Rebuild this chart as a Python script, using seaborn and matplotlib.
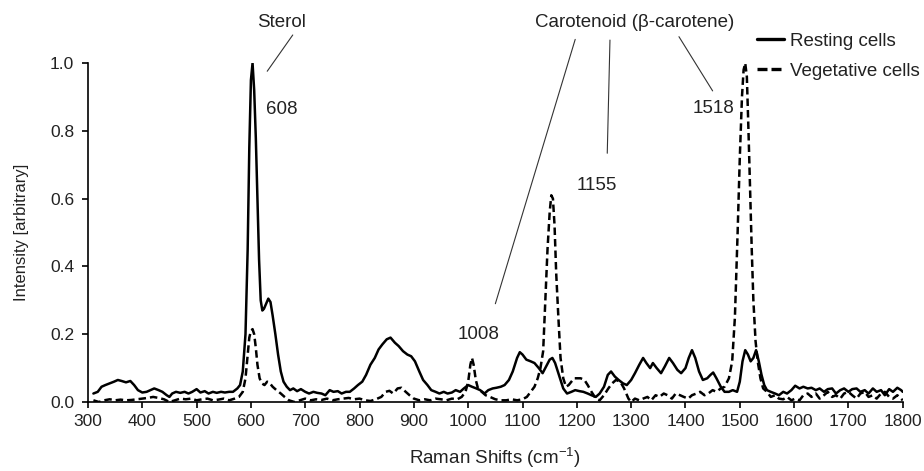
import numpy as np
import pandas as pd
import matplotlib
matplotlib.use("Agg")
import matplotlib.pyplot as plt
import seaborn as sns
from matplotlib.lines import Line2D

# --- data (Raman shift in cm-1, normalised intensity) ---
resting_shift = [
    310, 318, 325, 332, 340, 348, 355, 362, 370, 378,
    385, 392, 400, 408, 415, 422, 430, 437, 445, 450,
    455, 462, 470, 478, 485, 492, 500, 507, 515, 522,
    530, 537, 545, 552, 560, 567, 575, 580, 585, 590,
    594, 597, 600, 603, 606, 609, 612, 615, 618, 621,
    624, 628, 632, 636, 640, 645, 650, 655, 660, 666,
    672, 678, 685, 692, 700, 707, 715, 722, 730, 737,
    745, 752, 760, 767, 775, 782, 790, 797, 805, 812,
    820, 828, 835, 842, 850, 857, 865, 872, 880, 888,
    895, 902, 910, 917, 925, 932, 940, 947, 955, 962,
    970, 977, 985, 992, 1000, 1007, 1015, 1022, 1030, 1037,
    1045, 1052, 1060, 1067, 1075, 1082, 1090, 1095, 1100, 1107,
    1115, 1122, 1130, 1137, 1145, 1150, 1155, 1160, 1167, 1175,
    1182, 1190, 1197, 1205, 1212, 1220, 1227, 1235, 1242, 1250,
    1257, 1263, 1270, 1277, 1285, 1292, 1300, 1307, 1315, 1322,
    1328, 1335, 1340, 1347, 1355, 1362, 1370, 1377, 1385, 1392,
    1400, 1406, 1412, 1418, 1425, 1432, 1440, 1446, 1451, 1457,
    1465, 1472, 1480, 1487, 1495, 1500, 1505, 1510, 1515, 1520,
    1525, 1530, 1535, 1540, 1545, 1550, 1557, 1565, 1572, 1580,
    1587, 1595, 1602, 1610, 1617, 1625, 1632, 1640, 1647, 1655,
    1662, 1670, 1677, 1685, 1692, 1700, 1707, 1715, 1722, 1730,
    1737, 1745, 1752, 1760, 1767, 1775, 1782, 1790, 1797, 1800,
]
resting_intensity = [
    0.025, 0.030, 0.045, 0.050, 0.055, 0.060, 0.065, 0.062, 0.058, 0.062,
    0.050, 0.035, 0.028, 0.030, 0.035, 0.040, 0.035, 0.030, 0.020, 0.015,
    0.025, 0.030, 0.027, 0.030, 0.025, 0.030, 0.038, 0.028, 0.032, 0.025,
    0.030, 0.027, 0.030, 0.028, 0.030, 0.030, 0.040, 0.050, 0.090, 0.200,
    0.450, 0.750, 0.950, 1.000, 0.920, 0.780, 0.600, 0.420, 0.300, 0.270,
    0.275, 0.290, 0.305, 0.295, 0.255, 0.200, 0.140, 0.090, 0.060, 0.045,
    0.035, 0.040, 0.032, 0.038, 0.030, 0.025, 0.030, 0.027, 0.025, 0.020,
    0.035, 0.030, 0.032, 0.025, 0.030, 0.030, 0.040, 0.050, 0.060, 0.080,
    0.110, 0.130, 0.155, 0.170, 0.185, 0.190, 0.175, 0.165, 0.150, 0.140,
    0.135, 0.120, 0.090, 0.065, 0.050, 0.035, 0.030, 0.025, 0.030, 0.025,
    0.028, 0.035, 0.030, 0.040, 0.050, 0.045, 0.040, 0.035, 0.025, 0.035,
    0.040, 0.042, 0.045, 0.050, 0.065, 0.090, 0.130, 0.147, 0.140, 0.125,
    0.120, 0.115, 0.100, 0.085, 0.110, 0.125, 0.130, 0.115, 0.080, 0.040,
    0.025, 0.030, 0.035, 0.032, 0.030, 0.025, 0.020, 0.015, 0.025, 0.045,
    0.080, 0.090, 0.075, 0.065, 0.055, 0.050, 0.065, 0.085, 0.110, 0.130,
    0.115, 0.100, 0.115, 0.100, 0.085, 0.105, 0.130, 0.115, 0.095, 0.085,
    0.100, 0.130, 0.153, 0.130, 0.090, 0.065, 0.070, 0.080, 0.087, 0.070,
    0.045, 0.030, 0.030, 0.035, 0.030, 0.060, 0.120, 0.153, 0.140, 0.120,
    0.130, 0.153, 0.120, 0.080, 0.050, 0.035, 0.030, 0.025, 0.020, 0.030,
    0.025, 0.035, 0.048, 0.040, 0.045, 0.040, 0.042, 0.035, 0.040, 0.030,
    0.038, 0.040, 0.025, 0.035, 0.040, 0.030, 0.038, 0.040, 0.030, 0.035,
    0.025, 0.040, 0.030, 0.035, 0.020, 0.038, 0.030, 0.042, 0.035, 0.030,
]

vegetative_shift = [
    310, 320, 330, 340, 350, 360, 370, 380, 390, 400,
    410, 420, 430, 440, 450, 460, 470, 480, 490, 500,
    510, 520, 530, 540, 550, 560, 570, 578, 585, 590,
    594, 597, 600, 603, 606, 609, 612, 616, 620, 625,
    630, 635, 640, 647, 655, 662, 670, 680, 690, 700,
    710, 720, 730, 740, 750, 760, 770, 780, 790, 800,
    810, 820, 830, 840, 848, 855, 862, 870, 877, 885,
    892, 900, 910, 920, 930, 940, 950, 960, 970, 980,
    988, 995, 1000, 1004, 1007, 1010, 1014, 1018, 1025, 1032,
    1040, 1050, 1060, 1070, 1080, 1090, 1100, 1108, 1115, 1122,
    1128, 1133, 1138, 1142, 1146, 1150, 1153, 1156, 1159, 1162,
    1166, 1170, 1175, 1180, 1185, 1190, 1195, 1200, 1207, 1214,
    1220, 1227, 1235, 1242, 1250, 1258, 1265, 1272, 1280, 1287,
    1295, 1300, 1307, 1315, 1322, 1330, 1337, 1345, 1352, 1360,
    1367, 1375, 1382, 1390, 1397, 1405, 1412, 1420, 1427, 1435,
    1442, 1450, 1457, 1465, 1472, 1480, 1486, 1491, 1496, 1500,
    1504, 1507, 1510, 1513, 1516, 1519, 1522, 1525, 1529, 1533,
    1538, 1543, 1550, 1557, 1565, 1572, 1580, 1587, 1595, 1602,
    1610, 1617, 1625, 1632, 1640, 1647, 1655, 1662, 1670, 1677,
    1685, 1692, 1700, 1707, 1715, 1722, 1730, 1737, 1745, 1752,
    1760, 1767, 1775, 1782, 1790, 1800,
]
vegetative_intensity = [
    0.005, 0.000, 0.005, 0.008, 0.005, 0.007, 0.005, 0.006, 0.008, 0.010,
    0.012, 0.015, 0.012, 0.008, 0.000, 0.005, 0.010, 0.008, 0.010, 0.005,
    0.008, 0.010, 0.005, 0.007, 0.010, 0.005, 0.010, 0.015, 0.030, 0.070,
    0.140, 0.190, 0.210, 0.215, 0.200, 0.160, 0.110, 0.070, 0.055, 0.050,
    0.060, 0.055, 0.045, 0.035, 0.025, 0.015, 0.005, 0.000, 0.005, 0.010,
    0.005, 0.008, 0.006, 0.010, 0.005, 0.008, 0.010, 0.012, 0.008, 0.010,
    0.005, 0.003, 0.008, 0.015, 0.030, 0.033, 0.025, 0.040, 0.042, 0.030,
    0.020, 0.010, 0.005, 0.008, 0.005, 0.010, 0.008, 0.005, 0.010, 0.008,
    0.015, 0.030, 0.060, 0.110, 0.130, 0.110, 0.065, 0.040, 0.030, 0.020,
    0.015, 0.008, 0.005, 0.005, 0.008, 0.005, 0.008, 0.015, 0.030, 0.045,
    0.070, 0.100, 0.150, 0.300, 0.450, 0.560, 0.610, 0.600, 0.520, 0.380,
    0.250, 0.130, 0.070, 0.045, 0.050, 0.060, 0.070, 0.070, 0.070, 0.065,
    0.050, 0.030, 0.010, 0.005, 0.020, 0.040, 0.055, 0.065, 0.060, 0.040,
    0.010, 0.000, 0.010, 0.005, 0.010, 0.015, 0.005, 0.020, 0.015, 0.025,
    0.020, 0.010, 0.025, 0.020, 0.015, 0.010, 0.020, 0.025, 0.030, 0.020,
    0.025, 0.035, 0.030, 0.040, 0.045, 0.070, 0.120, 0.250, 0.500, 0.720,
    0.900, 0.980, 1.000, 0.960, 0.800, 0.620, 0.450, 0.300, 0.180, 0.120,
    0.070, 0.040, 0.030, 0.015, 0.020, 0.010, 0.008, 0.015, 0.005, 0.010,
    0.005, 0.020, 0.025, 0.015, 0.025, 0.010, 0.020, 0.030, 0.015, 0.020,
    0.010, 0.025, 0.030, 0.020, 0.010, 0.025, 0.030, 0.015, 0.020, 0.010,
    0.025, 0.030, 0.015, 0.010, 0.020, 0.005,
]

series_labels = ["Resting cells", "Vegetative cells"]

df = pd.concat([
    pd.DataFrame({"shift": resting_shift, "intensity": resting_intensity, "cells": series_labels[0]}),
    pd.DataFrame({"shift": vegetative_shift, "intensity": vegetative_intensity, "cells": series_labels[1]}),
])

# --- style ---
sns.set_style("ticks")
plt.rcParams["font.family"] = ["Liberation Sans", "DejaVu Sans"]
plt.rcParams["mathtext.default"] = "regular"

fig = plt.figure(figsize=(9.24, 4.71), dpi=100)
ax = fig.add_axes([0.0952, 0.1465, 0.8818, 0.7195])

line_dashes = {series_labels[0]: "", series_labels[1]: (3, 1.6)}
sns.lineplot(data=df, x="shift", y="intensity", style="cells", dashes=line_dashes,
             color="black", linewidth=1.8, estimator=None, sort=False, legend=False, ax=ax)

ax.set_xlim(300, 1800)
ax.set_ylim(0, 1.0)
ax.set_xticks(np.arange(300, 1801, 100))
ax.set_yticks(np.arange(0, 1.01, 0.2))
ax.yaxis.set_major_formatter(matplotlib.ticker.FormatStrFormatter("%.1f"))
sns.despine(ax=ax)
for s in ["left", "bottom"]:
    ax.spines[s].set_linewidth(1.2)
    ax.spines[s].set_color("black")
ax.tick_params(axis="both", direction="out", length=4, width=1.2, color="black",
               labelsize=12.5, labelcolor="#222222")
ax.tick_params(axis="x", pad=5)
ax.tick_params(axis="y", pad=6)

ax.set_xlabel("Raman Shifts (cm$^{-1}$)", fontsize=13.5, color="#222222", labelpad=12)
ax.set_ylabel("Intensity [arbitrary]", fontsize=12, color="#222222", labelpad=15)

# --- peak annotations ---
txt = dict(fontsize=13.5, color="#222222", ha="center", va="center", clip_on=False)
ax.text(657, 1.12, "Sterol", **txt)
ax.plot([677, 630], [1.083, 0.976], color="#333333", lw=0.8, clip_on=False)
ax.text(657, 0.864, "608", **txt)

ax.text(1306, 1.12, "Carotenoid (β-carotene)", **txt)
ax.plot([1197, 1050], [1.07, 0.29], color="#333333", lw=0.8, clip_on=False)
ax.plot([1261, 1256], [1.068, 0.734], color="#333333", lw=0.8, clip_on=False)
ax.plot([1388, 1450], [1.078, 0.918], color="#333333", lw=0.8, clip_on=False)
ax.text(1020, 0.198, "1008", **txt)
ax.text(1237, 0.64, "1155", **txt)
ax.text(1452, 0.866, "1518", **txt)

handles = [Line2D([], [], color="black", lw=2.4, linestyle="-"),
           Line2D([], [], color="black", lw=2.4, dashes=(3, 1.2))]
fig.legend(handles, series_labels, loc="upper left", bbox_to_anchor=(0.819, 0.931),
           frameon=False, fontsize=13.5, handlelength=1.45, handletextpad=0.3,
           labelspacing=0.7, borderpad=0, borderaxespad=0, labelcolor="#222222")

fig.savefig("out.png", dpi=100)
